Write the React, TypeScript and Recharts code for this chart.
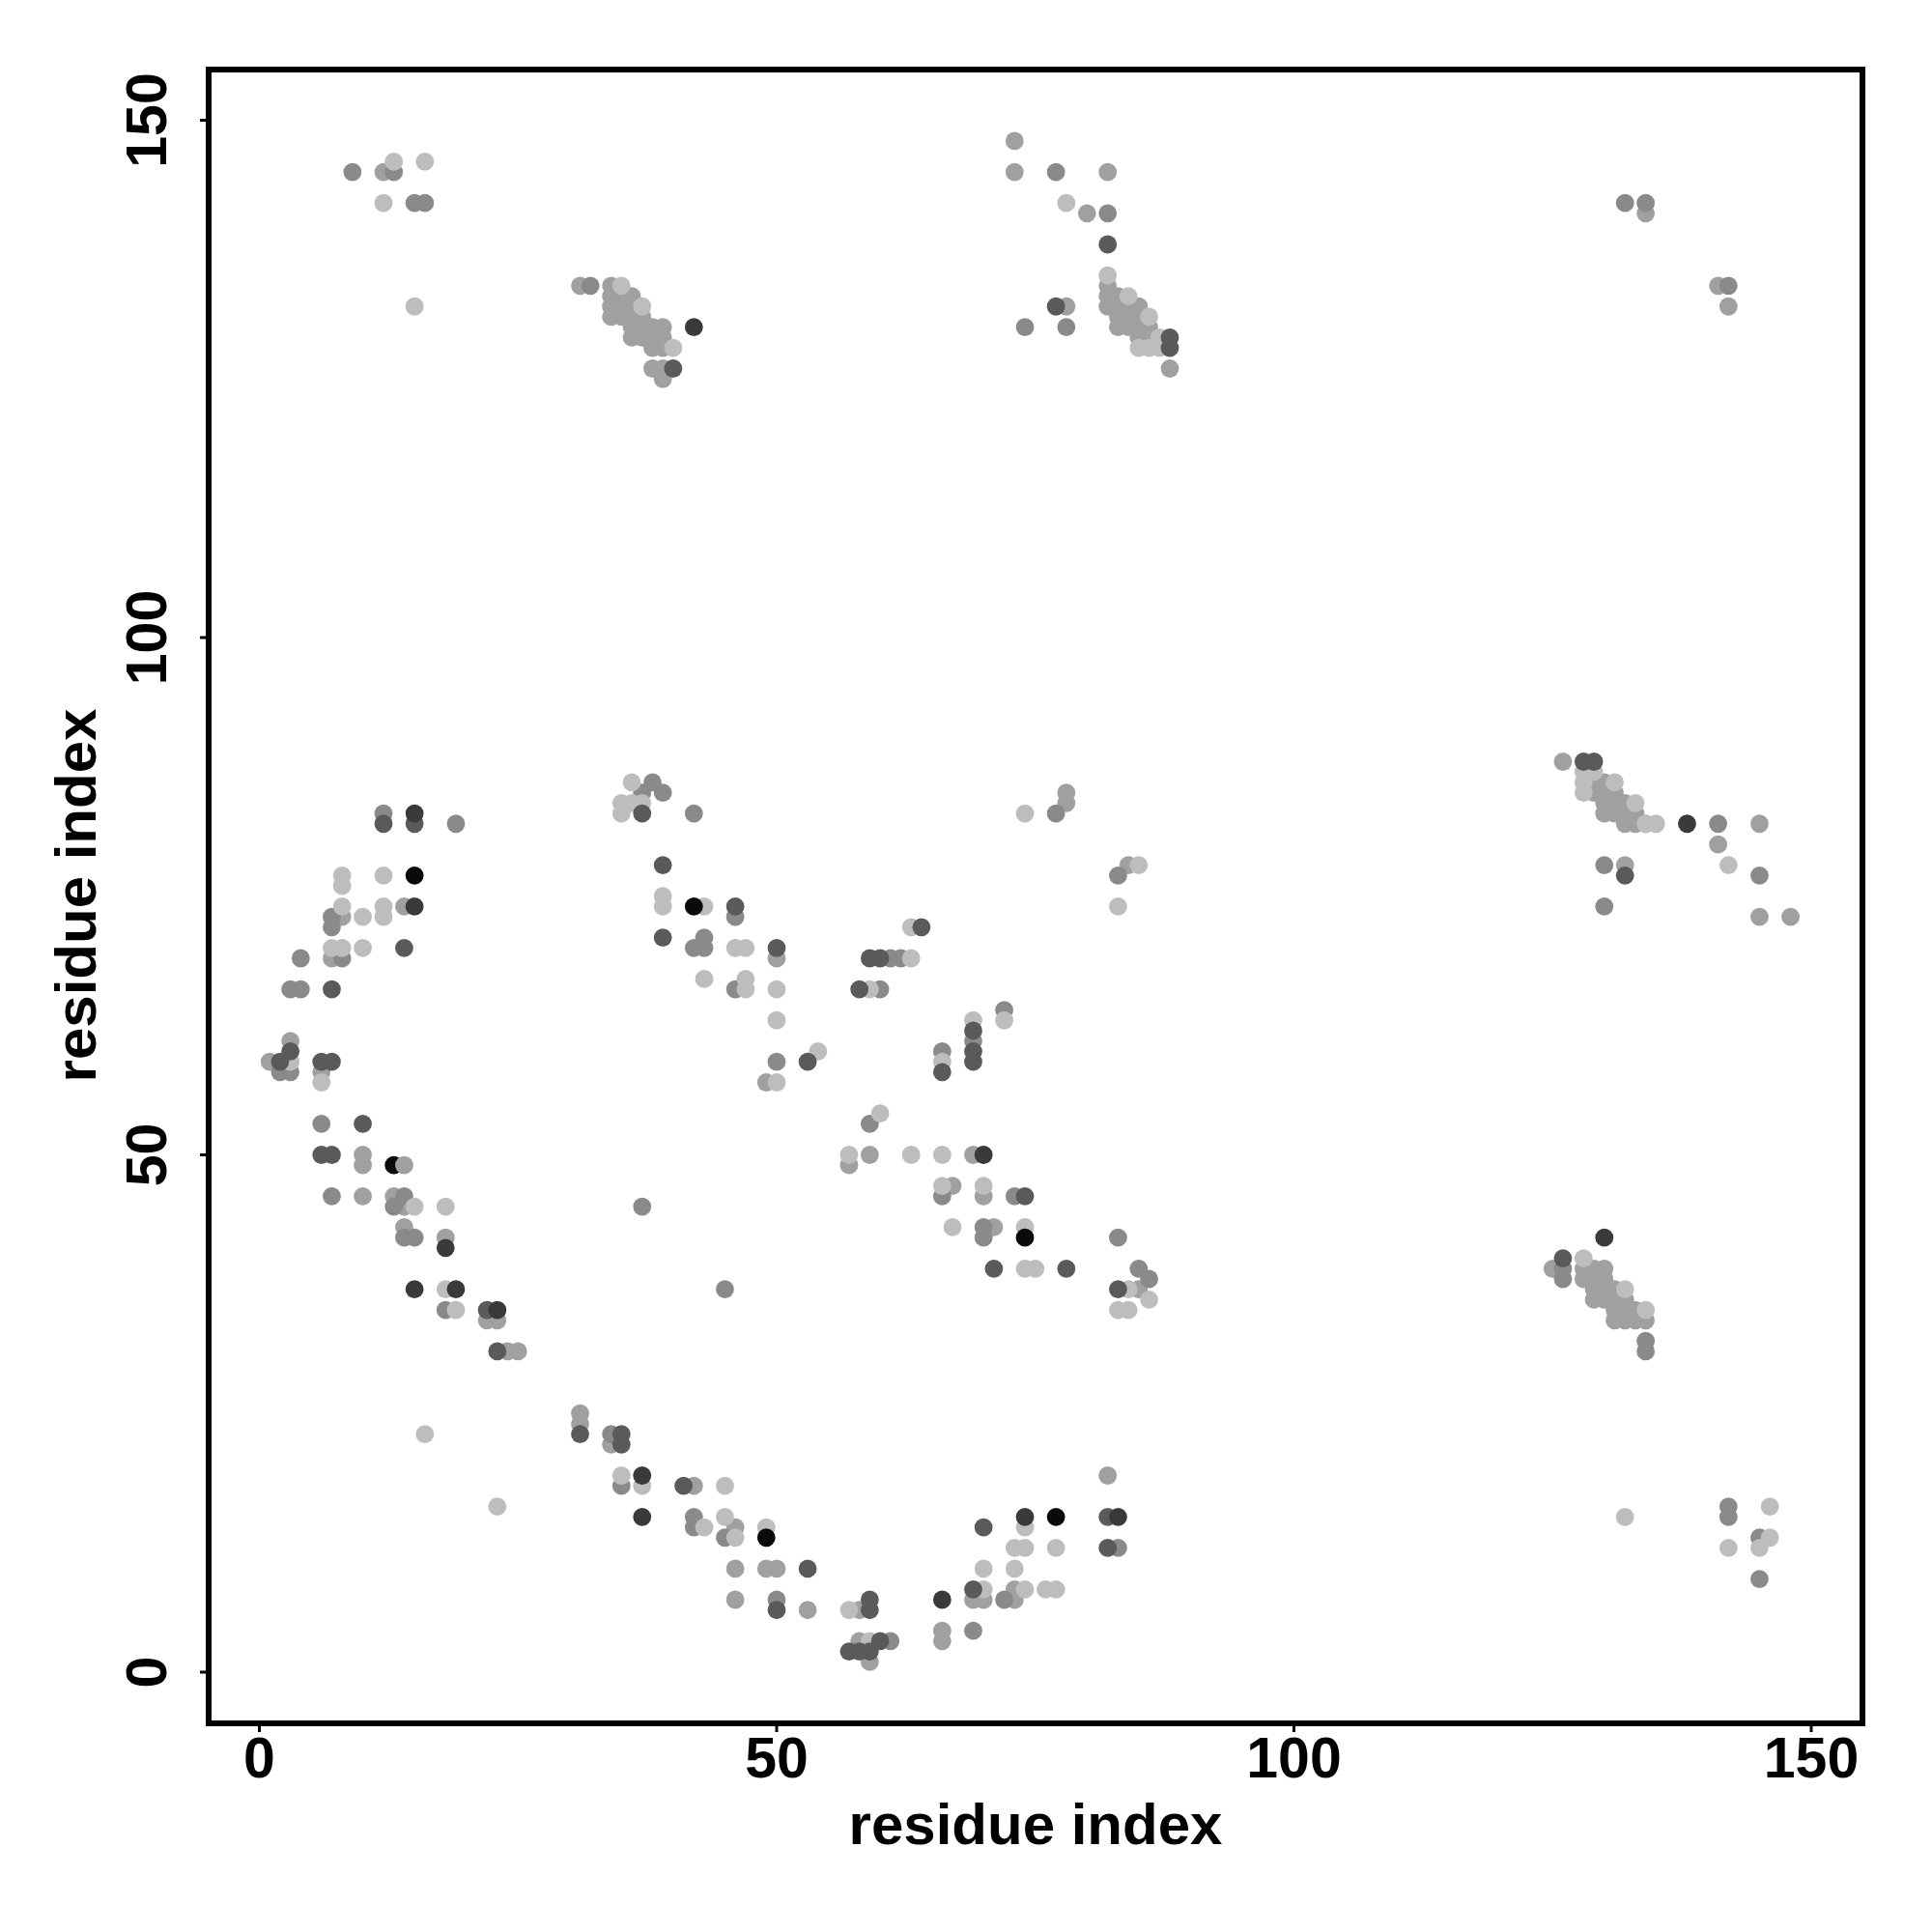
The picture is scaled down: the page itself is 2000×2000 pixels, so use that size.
import React from 'react';
import { ScatterChart, Scatter, XAxis, YAxis, ReferenceArea } from 'recharts';

type P = [number, number];

const tickValues = [0, 50, 100, 150];
const axisTitle = 'residue index';

const mediumPoints: P[] = [
  [12,145],[73,148],[73,145],[82,145],[80,141],[134,141],[141,134],[142,132],
  [31,134],[34,134],[34,133],[34,132],[34,131],[35,133],[35,132],[35,131],[36,133],[36,132],[36,131],[36,130],[36,129],
  [37,131],[37,130],[37,129],[38,130],[38,129],[38,128],[39,130],[39,129],[39,128],[38,126],[39,126],[39,125],
  [82,134],[82,133],[82,132],[83,133],[83,132],[83,131],[83,130],[84,132],[84,131],[84,130],[85,132],[85,131],[85,130],[85,129],
  [86,130],[86,129],[88,126],[78,132],
  [126,88],[129,86],[129,85],[130,86],[130,85],[130,84],[130,83],[131,85],[131,84],[131,83],[132,84],[132,83],[132,82],[133,83],[133,82],[134,82],
  [141,80],[145,82],[132,78],[145,73],[148,73],
  [125,39],[128,39],[128,38],[129,39],[129,38],[129,37],[129,36],[130,39],[130,38],[130,37],[130,36],
  [131,37],[131,36],[131,35],[131,34],[132,36],[132,35],[132,34],[133,35],[133,34],[134,34],
  [1,59],[3,61],[8,73],[14,74],[6,58],[7,69],
  [10,50],[10,49],[10,46],[13,46],[14,45],[14,43],[18,42],[22,34],[23,34],[24,31],[25,31],
  [31,25],[31,24],[34,22],[42,18],[46,14],[46,10],[49,10],[50,10],[46,7],[53,6],[58,6],[58,3],[59,1],[66,4],[66,3],
  [69,7],[70,7],[73,7],[73,8],[82,19],
  [50,69],[49,57],[57,49],[59,50],[69,50],[67,47],[70,46],[71,43],[85,37],[78,84],[78,85],[84,78],
];

const greyPoints: P[] = [
  [9,145],[13,145],[15,142],[16,142],[134,142],[132,142],[142,134],[82,141],[77,145],
  [32,134],[74,130],[78,130],
  [141,82],[145,77],[130,78],[130,74],[126,39],[126,38],[134,32],[134,31],
  [2,58],[3,58],[3,66],[4,66],[4,69],[8,69],[7,72],[7,73],[12,83],[19,82],[6,53],[7,46],
  [14,46],[13,45],[14,42],[15,42],[18,35],[37,45],[45,37],
  [34,23],[35,18],[42,15],[42,14],[45,13],[50,7],[61,3],[69,4],[72,7],[83,12],[142,16],[142,15],[145,13],[145,9],
  [37,85],[38,86],[39,85],[42,83],[42,70],[43,71],[43,70],[46,73],[46,66],[50,59],[60,66],[61,69],[62,69],
  [66,60],[69,61],[72,64],[59,53],[66,46],[70,43],[70,42],[73,46],[83,42],[85,39],[86,38],[77,83],[83,77],
];

const lightPoints: P[] = [
  [13,146],[12,142],[16,146],[15,132],[78,142],
  [35,134],[37,132],[40,128],
  [82,135],[84,133],[86,131],[85,128],[86,128],[87,129],[87,128],[74,83],[85,78],[83,74],
  [128,87],[128,86],[128,85],[129,87],[131,86],[133,84],[134,82],[135,82],[142,78],
  [128,40],[132,37],[134,35],
  [3,59],[6,57],[7,70],[8,70],[8,74],[8,76],[8,77],[10,70],[10,73],[12,73],[12,74],[12,77],
  [15,45],[18,45],[18,37],[19,35],[16,23],[23,16],
  [35,19],[37,18],[43,14],[45,18],[45,15],[46,13],[49,14],[57,6],[59,3],[70,8],[74,8],[76,8],[77,8],[70,10],[73,10],
  [73,12],[74,12],[77,12],[74,14],[132,15],[146,16],[142,12],[145,12],[146,13],
  [36,86],[35,84],[35,83],[36,84],[37,84],[39,75],[39,74],[43,74],[43,67],[46,70],[47,70],[47,67],[47,66],[50,66],[50,63],[50,57],[54,60],
  [59,66],[63,69],[63,72],[66,59],[69,63],[72,63],[57,50],[60,54],[63,50],[66,50],[66,47],[70,47],[67,43],[74,43],
  [74,39],[75,39],[84,37],[86,36],[83,35],[84,35],
];

const darkPoints: P[] = [
  [40,126],[82,138],[77,132],[88,129],[88,128],[128,88],[129,88],[132,77],[126,40],
  [2,59],[3,60],[6,59],[7,59],[7,66],[14,70],[12,82],[15,82],[10,53],[6,50],[7,50],[22,35],[23,31],
  [31,23],[35,23],[35,22],[41,18],[50,6],[53,10],[59,7],[59,6],[57,2],[58,2],[59,2],[60,3],[69,8],[70,14],[82,15],[82,12],
  [37,83],[39,78],[39,71],[46,74],[50,70],[53,59],[58,66],[59,69],[60,69],[64,72],[66,58],[69,62],[69,60],[69,59],
  [74,46],[71,39],[78,39],[83,37],
];

const veryDarkPoints: P[] = [
  [42,130],[138,82],[130,42],[15,74],[15,83],[18,41],[15,37],[19,37],[23,35],[37,19],[37,15],[66,7],[74,15],[83,15],[70,50],
];

const blackPoints: P[] = [
  [15,77],[13,49],[49,13],[77,15],[42,74],[74,42],
];

const topPoints: P[] = [[14,49]];

const layers: { name: string; points: P[]; color: string }[] = [
  { name: 'medium', points: mediumPoints, color: '#a0a0a0' },
  { name: 'grey', points: greyPoints, color: '#8a8a8a' },
  { name: 'light', points: lightPoints, color: '#bdbdbd' },
  { name: 'dark', points: darkPoints, color: '#5a5a5a' },
  { name: 'veryDark', points: veryDarkPoints, color: '#3a3a3a' },
  { name: 'black', points: blackPoints, color: '#0a0a0a' },
  { name: 'top', points: topPoints, color: '#a0a0a0' },
];

const FONT = '"Liberation Sans", Arial, sans-serif';
const TICK_SIZE = 59;
const TITLE_SIZE = 60;

const XTick = (p: any) => (
  <text x={p.x} y={1840} textAnchor="middle" fontFamily={FONT} fontWeight="bold" fontSize={TICK_SIZE} fill="#000">
    {p.payload.value}
  </text>
);
const YTick = (p: any) => (
  <text
    transform={`translate(172 ${p.y}) rotate(-90)`}
    textAnchor="middle"
    fontFamily={FONT}
    fontWeight="bold"
    fontSize={TICK_SIZE}
    fill="#000"
  >
    {p.payload.value}
  </text>
);

const XTitle = () => (
  <text x={1072} y={1909} textAnchor="middle" fontFamily={FONT} fontWeight="bold" fontSize={TITLE_SIZE} fill="#000">
    {axisTitle}
  </text>
);
const YTitle = () => (
  <text
    transform="translate(99 927) rotate(-90)"
    textAnchor="middle"
    fontFamily={FONT}
    fontWeight="bold"
    fontSize={TITLE_SIZE}
    fill="#000"
  >
    {axisTitle}
  </text>
);

const X_DOMAIN: [number, number] = [-4.9, 154.95];
const Y_DOMAIN: [number, number] = [-4.95, 154.9];

export default function App() {
  return (
    <div style={{ position: 'absolute', left: 0, top: 0, width: 2000, height: 2000, background: '#fff' }}>
      <ScatterChart width={2000} height={2000} margin={{ top: 72, right: 72, bottom: 0, left: 0 }}>
        <XAxis
          type="number"
          dataKey="x"
          domain={X_DOMAIN}
          ticks={tickValues}
          height={216}
          allowDataOverflow
          axisLine={false}
          tickLine={{ stroke: '#000', strokeWidth: 3 }}
          tickSize={9}
          tick={XTick}
          interval={0}
          label={{ content: XTitle } as any}
        />
        <YAxis
          type="number"
          dataKey="y"
          domain={Y_DOMAIN}
          ticks={tickValues}
          width={216}
          allowDataOverflow
          axisLine={false}
          tickLine={{ stroke: '#000', strokeWidth: 3 }}
          tickSize={9}
          tick={YTick}
          interval={0}
          label={{ content: YTitle } as any}
        />
        {layers.map((l) => (
          <Scatter
            key={l.name}
            name={l.name}
            data={l.points.map(([x, y]) => ({ x, y }))}
            isAnimationActive={false}
            shape={(p: any) => <circle cx={p.cx} cy={p.cy} r={9.4} fill={l.color} />}
          />
        ))}
        <ReferenceArea
          x1={X_DOMAIN[0]}
          x2={X_DOMAIN[1]}
          y1={Y_DOMAIN[0]}
          y2={Y_DOMAIN[1]}
          fill="none"
          stroke="#000"
          strokeWidth={6}
          ifOverflow="visible"
        />
      </ScatterChart>
    </div>
  );
}
